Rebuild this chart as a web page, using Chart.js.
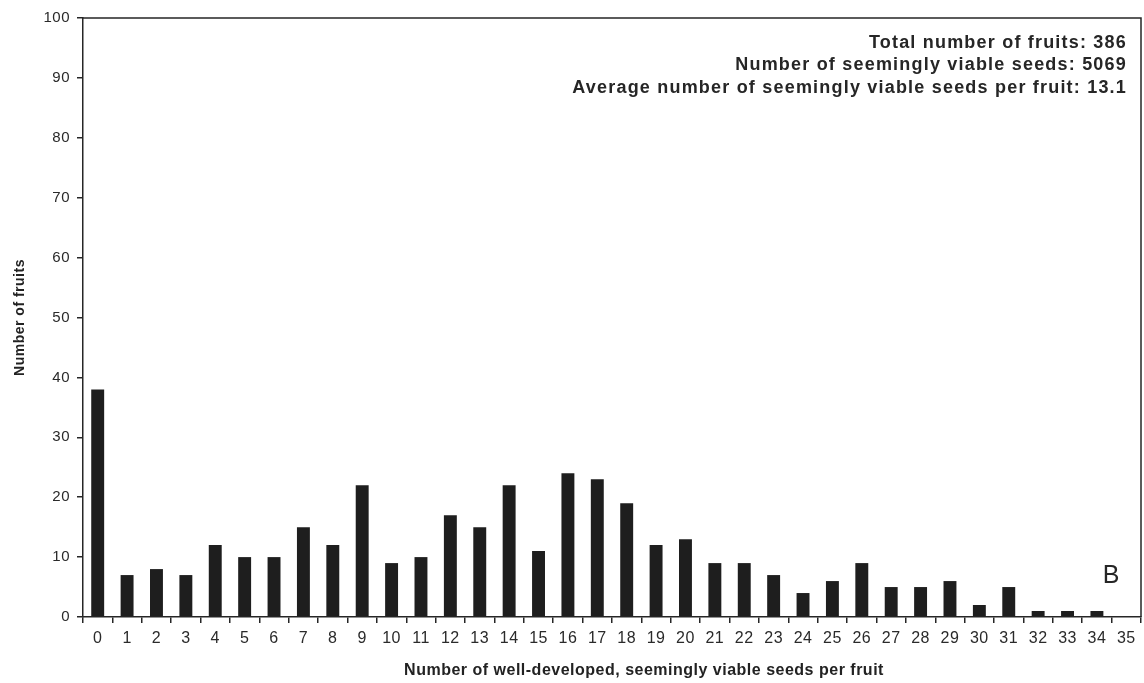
<!DOCTYPE html>
<html>
<head>
<meta charset="utf-8">
<script src="https://cdn.jsdelivr.net/npm/chart.js@4.4.1/dist/chart.umd.min.js"></script>
<style>
  html, body { margin: 0; padding: 0; background: #fff; }
  #wrap { width: 1144px; height: 683px; position: relative; }
</style>
</head>
<body>
<div id="wrap"><canvas id="c" width="1144" height="683"></canvas></div>
<script>
// Seeds per fruit (category) and number of fruits with that count
const seedCounts = Array.from({ length: 36 }, (_, i) => String(i));
const fruitCounts = [38, 7, 8, 7, 12, 10, 10, 15, 12, 22,
                     9, 10, 17, 15, 22, 11, 24, 23, 19, 12,
                     13, 9, 9, 7, 4, 6, 9, 5, 5, 6,
                     2, 5, 1, 1, 1, 0];
const yTicks = [0, 10, 20, 30, 40, 50, 60, 70, 80, 90, 100];
const summaryLines = [
  'Total number of fruits: 386',
  'Number of seemingly viable seeds: 5069',
  'Average number of seemingly viable seeds per fruit: 13.1'
];
const xTitle = 'Number of well-developed, seemingly viable seeds per fruit';
const panelLetter = 'B';

const INK = '#262626';
const FONT = '"Liberation Sans", Arial, sans-serif';

// Slightly wider letter spacing for all axis text
const spacingPlugin = {
  id: 'spacing',
  beforeDraw(chart) { chart.ctx.letterSpacing = '0.5px'; }
};

// Closed frame on top/right, summary text block, x-axis caption and panel letter
const framePlugin = {
  id: 'frame',
  afterDraw(chart) {
    const { ctx, chartArea: a } = chart;
    ctx.save();
    ctx.strokeStyle = INK;
    ctx.lineWidth = 1.5;
    ctx.beginPath();
    ctx.moveTo(a.left, a.top);
    ctx.lineTo(a.right, a.top);
    ctx.lineTo(a.right, a.bottom);
    ctx.stroke();

    ctx.fillStyle = INK;
    ctx.textAlign = 'right';
    ctx.textBaseline = 'middle';
    ctx.letterSpacing = '1.2px';
    ctx.font = 'bold 18px ' + FONT;
    summaryLines.forEach((t, i) => ctx.fillText(t, a.right - 14, a.top + 25 + i * 22.3));

    ctx.fillStyle = '#222';
    ctx.textAlign = 'center';
    ctx.letterSpacing = '0.5px';
    ctx.font = 'bold 16px ' + FONT;
    ctx.fillText(xTitle, a.left + (a.right - a.left) / 2 + 32, a.bottom + 54);

    ctx.fillStyle = INK;
    ctx.letterSpacing = '0px';
    ctx.textBaseline = 'alphabetic';
    ctx.font = '25px ' + FONT;
    ctx.fillText(panelLetter, a.right - 30, a.bottom - 34);
    ctx.restore();
  }
};

new Chart(document.getElementById('c'), {
  type: 'bar',
  data: {
    labels: seedCounts,
    datasets: [{
      data: fruitCounts,
      backgroundColor: '#1e1e1e',
      borderWidth: 0,
      barPercentage: 0.44,
      categoryPercentage: 1.0
    }]
  },
  options: {
    responsive: false,
    animation: false,
    devicePixelRatio: 1,
    layout: { padding: { top: 18, right: 3, left: 0, bottom: 0 } },
    plugins: { legend: { display: false }, tooltip: { enabled: false } },
    scales: {
      x: {
        offset: true,
        grid: {
          display: true, offset: true, drawOnChartArea: false,
          drawTicks: true, tickLength: 6, color: INK, lineWidth: 1.5
        },
        border: { display: true, color: INK, width: 1.5 },
        ticks: { color: '#2a2a2a', font: { family: FONT, size: 16 }, padding: 6, maxRotation: 0, autoSkip: false },
        title: { display: false },
        afterFit(scale) { scale.height = 66; }
      },
      y: {
        min: 0, max: 100,
        afterBuildTicks(scale) { scale.ticks = yTicks.map(v => ({ value: v })); },
        grid: {
          display: true, drawOnChartArea: false,
          drawTicks: true, tickLength: 6, color: INK, lineWidth: 1.5
        },
        border: { display: true, color: INK, width: 1.5 },
        ticks: { color: '#2a2a2a', font: { family: FONT, size: 15 }, padding: 7 },
        title: {
          display: true,
          text: 'Number of fruits',
          color: '#222',
          font: { family: FONT, size: 14, weight: 'bold' },
          padding: { top: 12, bottom: 4 }
        },
        afterFit(scale) { scale.width = 83; }
      }
    }
  },
  plugins: [spacingPlugin, framePlugin]
});
</script>
</body>
</html>
